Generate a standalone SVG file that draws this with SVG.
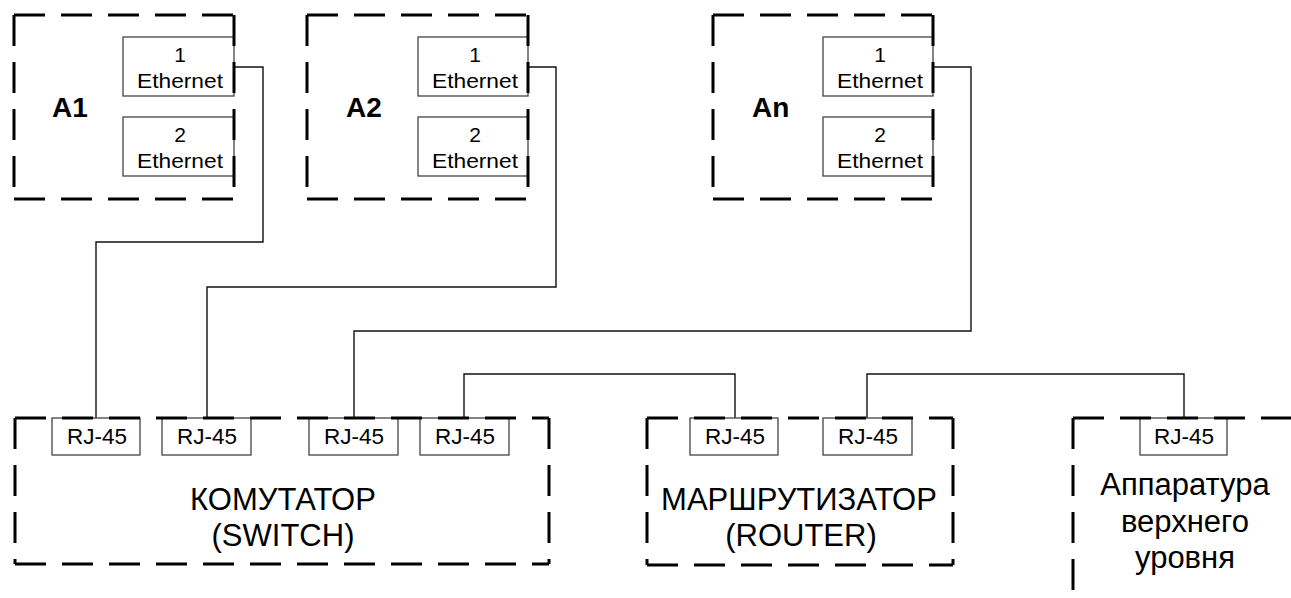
<svg xmlns="http://www.w3.org/2000/svg" width="1291" height="598" viewBox="0 0 1291 598">
<style>
.frame{fill:none;stroke:#000;stroke-width:3;stroke-dasharray:31,16}
.port{fill:#fff;stroke:#444;stroke-width:1.3}
.wire{fill:none;stroke:#111;stroke-width:1.4}
text{font-family:"Liberation Sans",Arial,sans-serif;fill:#000;text-anchor:middle}
.s{font-size:21px}
.r{font-size:22.5px}
.b{font-size:28px;font-weight:bold;text-anchor:start}
.l{font-size:31px}
</style>
<rect width="1291" height="598" fill="#fff"/>
<g id="connectors">
<path class="wire" d="M234,67 H263 V242 H96 V418"/>
<path class="wire" d="M528,67 H556 V287 H207 V418"/>
<path class="wire" d="M933,67 H971 V331 H354 V418"/>
<path class="wire" d="M464,418 V374 H735 V418"/>
<path class="wire" d="M867,418 V374 H1184 V418"/>
</g>
<g id="A1">
<rect class="port" x="123" y="37" width="111" height="59"/>
<rect class="port" x="123" y="117" width="111" height="59"/>
<path class="frame" d="M14,15 H234 M14,15 V199 M234,15 V199 M14,199 H234"/>
<text class="b" x="52" y="117">A1</text>
<text class="s" x="180" y="62">1</text>
<text class="s" x="180" y="88" textLength="86" lengthAdjust="spacingAndGlyphs">Ethernet</text>
<text class="s" x="180" y="142">2</text>
<text class="s" x="180" y="168" textLength="86" lengthAdjust="spacingAndGlyphs">Ethernet</text>
</g>
<g id="A2">
<rect class="port" x="418" y="37" width="110" height="59"/>
<rect class="port" x="418" y="117" width="110" height="59"/>
<path class="frame" d="M307,15 H528 M307,15 V199 M528,15 V199 M307,199 H528"/>
<text class="b" x="346" y="117">A2</text>
<text class="s" x="475" y="62">1</text>
<text class="s" x="475" y="88" textLength="86" lengthAdjust="spacingAndGlyphs">Ethernet</text>
<text class="s" x="475" y="142">2</text>
<text class="s" x="475" y="168" textLength="86" lengthAdjust="spacingAndGlyphs">Ethernet</text>
</g>
<g id="An">
<rect class="port" x="823" y="37" width="110" height="59"/>
<rect class="port" x="823" y="117" width="110" height="59"/>
<path class="frame" d="M713,15 H933 M713,15 V199 M933,15 V199 M713,199 H933"/>
<text class="b" x="752" y="117">An</text>
<text class="s" x="880" y="62">1</text>
<text class="s" x="880" y="88" textLength="86" lengthAdjust="spacingAndGlyphs">Ethernet</text>
<text class="s" x="880" y="142">2</text>
<text class="s" x="880" y="168" textLength="86" lengthAdjust="spacingAndGlyphs">Ethernet</text>
</g>
<g id="switch">
<rect class="port" x="52" y="418" width="88" height="37"/>
<rect class="port" x="162" y="418" width="89" height="37"/>
<rect class="port" x="309" y="418" width="89" height="37"/>
<rect class="port" x="420" y="418" width="89" height="37"/>
<path class="frame" d="M15,418 H549 M15,418 V564 M549,418 V564 M15,564 H549"/>
<text class="r" x="97" y="444">RJ-45</text>
<text class="r" x="207" y="444">RJ-45</text>
<text class="r" x="354" y="444">RJ-45</text>
<text class="r" x="465" y="444">RJ-45</text>
<text class="l" x="283" y="510">КОМУТАТОР</text>
<text class="l" x="283" y="546">(SWITCH)</text>
</g>
<g id="router">
<rect class="port" x="690" y="418" width="88" height="37"/>
<rect class="port" x="823" y="418" width="89" height="37"/>
<path class="frame" d="M647,418 H953 M647,418 V565 M953,418 V565 M647,565 H953"/>
<text class="r" x="735" y="444">RJ-45</text>
<text class="r" x="868" y="444">RJ-45</text>
<text class="l" x="799" y="510">МАРШРУТИЗАТОР</text>
<text class="l" x="801" y="546">(ROUTER)</text>
</g>
<g id="upper">
<rect class="port" x="1140" y="418" width="87" height="37"/>
<path class="frame" d="M1073,418 H1291 M1073,418 V598"/>
<text class="r" x="1184" y="444">RJ-45</text>
<text class="l" x="1185" y="495">Аппаратура</text>
<text class="l" x="1185" y="532">верхнего</text>
<text class="l" x="1185" y="568">уровня</text>
</g>
</svg>
